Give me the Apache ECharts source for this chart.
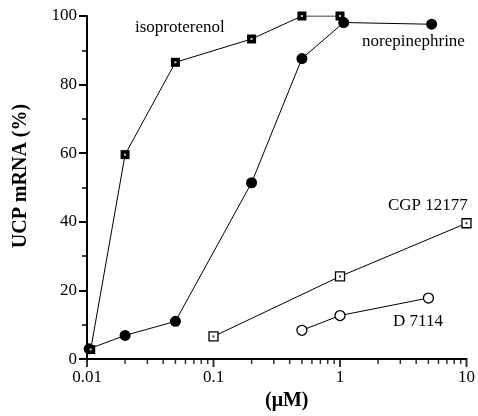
<!DOCTYPE html>
<html>
<head>
<meta charset="utf-8">
<script src="https://cdn.jsdelivr.net/npm/echarts@6/dist/echarts.min.js"></script>
<style>
  html, body { margin: 0; padding: 0; background: #fff; }
  #chart { width: 478px; height: 416px; }
</style>
</head>
<body>
<div id="chart"></div>
<script>
// values (x in uM, y in % UCP mRNA)
const isoX = [0.0107, 0.02, 0.05, 0.2, 0.5, 1]
const isoY = [2.8, 59.6, 86.5, 93.3, 100, 100]
const noreX = [0.0104, 0.02, 0.05, 0.2, 0.5, 1.07, 5.3]
const noreY = [3.0, 6.9, 11.0, 51.4, 87.6, 98.1, 97.6]
const cgpX = [0.1, 1, 10]
const cgpY = [6.6, 24.1, 39.6]
const d7X = [0.5, 1, 5]
const d7Y = [8.4, 12.7, 17.8]

const xMajor = [0.01, 0.1, 1, 10]
const xMinor = [0.02, 0.03, 0.04, 0.05, 0.06, 0.07, 0.08, 0.09,
  0.2, 0.3, 0.4, 0.5, 0.6, 0.7, 0.8, 0.9,
  2, 3, 4, 5, 6, 7, 8, 9]

const serif = 'Liberation Serif'

function pairs(xs, ys) {
  return xs.map((x, i) => [x, ys[i]])
}

function lineSeries(xs, ys, symbol, size, fill, border, z) {
  return {
    type: 'line',
    data: pairs(xs, ys),
    symbol: symbol,
    symbolSize: size,
    showAllSymbol: true,
    z: z,
    lineStyle: { color: '#000', width: 1 },
    itemStyle: { color: fill, borderColor: border, borderWidth: fill === '#fff' ? 1.3 : 0, opacity: 1 },
    emphasis: { disabled: true },
    animation: false
  }
}

function dotSeries(xs, ys, color, z) {
  return {
    type: 'scatter',
    data: pairs(xs, ys),
    symbol: 'rect',
    symbolSize: 2,
    z: z,
    silent: true,
    itemStyle: { color: color },
    animation: false
  }
}

// the log axis ticks don't draw here, so put them on y = 0 through the axis scale
function tickSeries(values, len, width) {
  return {
    type: 'scatter',
    data: values.map(v => [v, 0]),
    symbol: 'rect',
    symbolSize: [width, len],
    symbolOffset: [0, len / 2],
    clip: false,
    z: 5,
    itemStyle: { color: '#000' },
    emphasis: { disabled: true },
    animation: false
  }
}

let option = {
  backgroundColor: '#fff',
  textStyle: { fontFamily: serif },
  grid: { left: 87, right: 9, top: 16, bottom: 53 },
  xAxis: {
    type: 'log',
    logBase: 10,
    min: 0.01,
    max: 10,
    name: '(\u03bcM)',
    nameLocation: 'middle',
    nameGap: 29,
    nameTextStyle: { fontFamily: serif, fontSize: 20, fontWeight: 'bold', color: '#000', padding: [0, 0, 0, 20] },
    axisLine: { onZero: false, lineStyle: { color: '#000', width: 2 } },
    axisTick: { show: false },
    axisLabel: {
      customValues: xMajor,
      margin: 10,
      color: '#000',
      fontFamily: serif,
      fontSize: 17,
      formatter: function (v) { return String(v) }
    },
    splitLine: { show: false }
  },
  yAxis: {
    type: 'value',
    min: 0,
    max: 100,
    interval: 20,
    name: 'UCP mRNA (%)',
    nameLocation: 'middle',
    nameGap: 56,
    nameTextStyle: { fontFamily: serif, fontSize: 20, fontWeight: 'bold', color: '#000', padding: [0, 0, 0, 23] },
    axisLine: { show: true, onZero: false, lineStyle: { color: '#000', width: 2 } },
    axisTick: { show: true, length: 8, lineStyle: { color: '#000', width: 2 } },
    minorTick: { show: true, splitNumber: 2, length: 5, lineStyle: { color: '#000', width: 1.5 } },
    axisLabel: { margin: 10, color: '#000', fontFamily: serif, fontSize: 17 },
    splitLine: { show: false }
  },
  graphic: [
    { type: 'text', left: 135, top: 19, style: { text: 'isoproterenol', font: '17px "Liberation Serif"', fill: '#000' } },
    { type: 'text', left: 362, top: 33, style: { text: 'norepinephrine', font: '17px "Liberation Serif"', fill: '#000' } },
    { type: 'text', left: 388, top: 197, style: { text: 'CGP 12177', font: '17px "Liberation Serif"', fill: '#000' } },
    { type: 'text', left: 393, top: 313, style: { text: 'D 7114', font: '17px "Liberation Serif"', fill: '#000' } }
  ],
  series: [
    tickSeries(xMajor, 8, 2),
    tickSeries(xMinor, 5, 1.5),
    lineSeries(noreX, noreY, 'circle', 11, '#000', '#000', 2),
    lineSeries(isoX, isoY, 'rect', 9, '#000', '#000', 3),
    dotSeries(isoX, isoY, '#fff', 4),
    lineSeries(cgpX, cgpY, 'rect', 9, '#fff', '#000', 2),
    dotSeries(cgpX, cgpY, '#000', 4),
    lineSeries(d7X, d7Y, 'circle', 10, '#fff', '#000', 2)
  ]
}

let myChart = echarts.init(document.getElementById('chart'), null, { renderer: 'canvas' })
myChart.setOption(option)
</script>
</body>
</html>
